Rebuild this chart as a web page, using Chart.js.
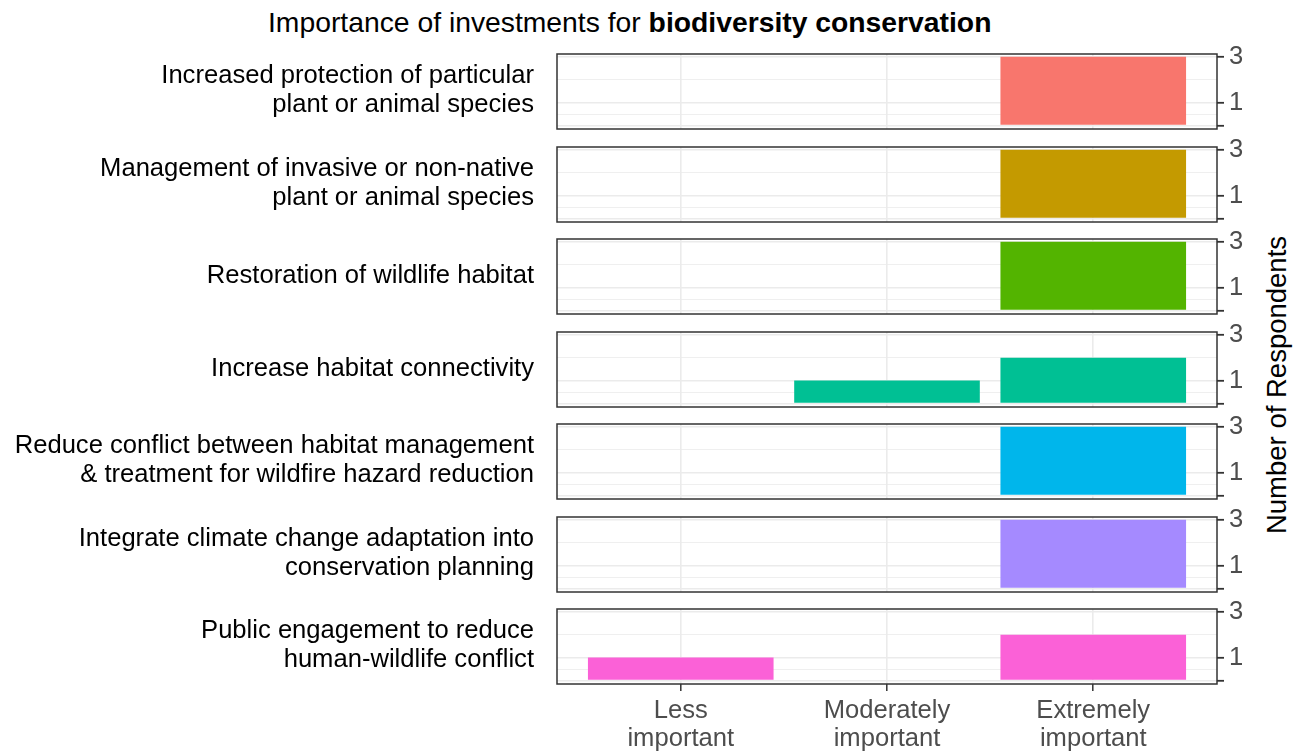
<!DOCTYPE html>
<html>
<head>
<meta charset="utf-8">
<script src="https://cdn.jsdelivr.net/npm/chart.js@4.4.1/dist/chart.umd.min.js"></script>
<style>
  body { margin: 0; background: #fff; width: 1307px; height: 751px; position: relative; overflow: hidden;
         font-family: 'Liberation Sans', Arial, sans-serif; }
  canvas { position: absolute; left: 0; }
  #title { position: absolute; left: 268px; top: 6px; font-size: 28.3px; color: #000; white-space: nowrap; line-height: 32px; }
  #ytitle { position: absolute; left: 1277px; top: 385px; font-size: 27.5px; color: #000; white-space: nowrap;
            transform: translate(-50%, -50%) rotate(-90deg); }
</style>
</head>
<body>
<div id="title">Importance of investments for <b>biodiversity conservation</b></div>
<div id="ytitle">Number of Respondents</div>
<script>
// data
const categories = [['Less', 'important'], ['Moderately', 'important'], ['Extremely', 'important']];
const investments = [
  ['Increased protection of particular', 'plant or animal species'],
  ['Management of invasive or non-native', 'plant or animal species'],
  ['Restoration of wildlife habitat'],
  ['Increase habitat connectivity'],
  ['Reduce conflict between habitat management', '& treatment for wildfire hazard reduction'],
  ['Integrate climate change adaptation into', 'conservation planning'],
  ['Public engagement to reduce', 'human-wildlife conflict']
];
const lessImportant       = [0, 0, 0, 0, 0, 0, 1];
const moderatelyImportant = [0, 0, 0, 1, 0, 0, 0];
const extremelyImportant  = [3, 3, 3, 2, 3, 3, 2];
const yMajorTicks = [0, 1, 3];
const yMinorTicks = [0.5, 2];
const yTickLabels = ['', '1', '3'];

// ggplot hue palette, one colour per facet
const panelColors = ['#F8766D', '#C49A00', '#53B400', '#00C094', '#00B6EB', '#A58AFF', '#FB61D7'];

const FONT = "'Liberation Sans', Arial, sans-serif";
const FS = 25.6;
const W = 1307, LEFT = 557, RIGHT = 1217;
const FIRST_TOP = 54, STEP = 92.5, PANEL_H = 75, PAD = 16, BOTTOM_AXIS = 67;

// frame round the panel + the facet label on the left
const panelFrame = {
  id: 'panelFrame',
  afterDraw(chart, args, opts) {
    const { ctx, chartArea: a } = chart;
    ctx.save();
    ctx.strokeStyle = '#333333';
    ctx.lineWidth = 1.5;
    ctx.strokeRect(a.left, a.top, a.right - a.left, a.bottom - a.top);
    ctx.fillStyle = '#000';
    ctx.font = FS + 'px ' + FONT;
    ctx.textAlign = 'right';
    ctx.textBaseline = 'middle';
    const mid = (a.top + a.bottom) / 2 - 1;
    opts.lines.forEach((t, k) => {
      ctx.fillText(t, a.left - 23, mid + (k - (opts.lines.length - 1) / 2) * 29);
    });
    ctx.restore();
  }
};

const series = [lessImportant, moderatelyImportant, extremelyImportant];

investments.forEach((lines, i) => {
  const last = i === investments.length - 1;
  const top = Math.round(FIRST_TOP + STEP * i) - PAD;
  const h = PAD + PANEL_H + (last ? BOTTOM_AXIS : PAD);
  const cv = document.createElement('canvas');
  cv.width = W; cv.height = h;
  cv.style.top = top + 'px';
  document.body.appendChild(cv);

  new Chart(cv, {
    type: 'bar',
    data: {
      datasets: [{
        data: categories.map((c, j) => ({ x: j + 1, y: series[j][i] })),
        backgroundColor: panelColors[i],
        borderWidth: 0,
        barPercentage: 0.9,
        categoryPercentage: 1
      }]
    },
    options: {
      responsive: false,
      animation: false,
      devicePixelRatio: 1,
      layout: { padding: { left: LEFT, right: 0, top: PAD, bottom: last ? 0 : PAD } },
      plugins: {
        legend: { display: false },
        tooltip: { enabled: false },
        panelFrame: { lines: lines }
      },
      scales: {
        x: {
          type: 'linear',
          offset: false,
          min: 0.4, max: 3.6,
          afterBuildTicks: s => { s.ticks = [1, 2, 3].map(v => ({ value: v })); },
          afterFit: s => { s.height = last ? BOTTOM_AXIS : 0; s.paddingLeft = 0; s.paddingRight = 0; },
          grid: { offset: false, color: '#EBEBEB', lineWidth: 1.6, drawTicks: last, tickLength: 7, tickColor: '#333333', tickWidth: 1.5 },
          border: { display: false },
          ticks: {
            display: last,
            color: '#4D4D4D',
            font: { size: FS, family: FONT, lineHeight: 1.1 },
            padding: 6,
            maxRotation: 0,
            autoSkip: false,
            callback: v => categories[v - 1]
          }
        },
        y: {
          position: 'right',
          min: -0.15, max: 3.12,
          afterBuildTicks: s => {
            s.ticks = yMajorTicks.concat(yMinorTicks).sort((a, b) => a - b).map(v => ({ value: v }));
          },
          afterFit: s => { s.width = W - RIGHT; s.paddingTop = 0; s.paddingBottom = 0; },
          grid: {
            color: '#EBEBEB',
            lineWidth: c => yMinorTicks.includes(c.tick.value) ? 0.8 : 1.6,
            tickLength: 7,
            tickWidth: 1.8,
            tickColor: c => yMinorTicks.includes(c.tick.value) ? 'rgba(0,0,0,0)' : '#333333'
          },
          border: { display: false },
          ticks: {
            color: '#4D4D4D',
            font: { size: FS, family: FONT },
            padding: 5,
            autoSkip: false,
            callback: v => {
              const k = yMajorTicks.indexOf(v);
              return k >= 0 ? yTickLabels[k] : '';
            }
          }
        }
      }
    },
    plugins: [panelFrame]
  });
});
</script>
</body>
</html>
